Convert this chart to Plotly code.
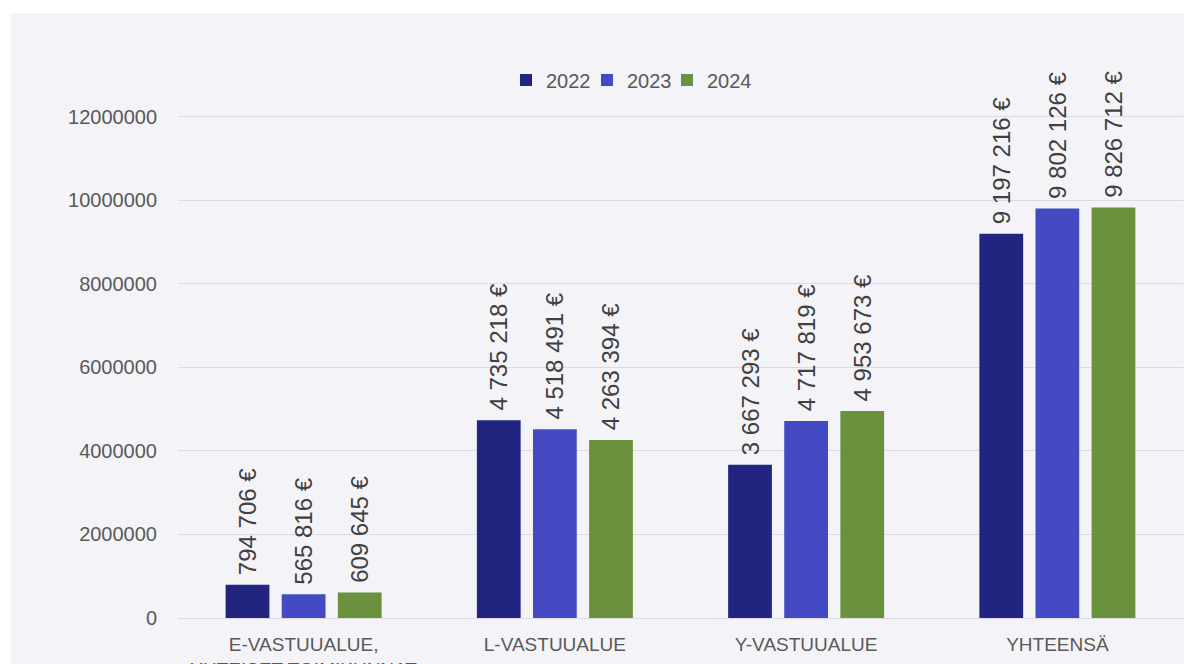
import plotly.graph_objects as go

categories = ["E-VASTUUALUE,<br>YHTEISET TOIMIKUNNAT", "L-VASTUUALUE", "Y-VASTUUALUE", "YHTEENSÄ"]
years = ["2022", "2023", "2024"]
values_2022 = [794706, 4735218, 3667293, 9197216]
values_2023 = [565816, 4518491, 4717819, 9802126]
values_2024 = [609645, 4263394, 4953673, 9826712]
colors = ["#212580", "#444BC2", "#6A923C"]

W, H = 1184, 664
ML, MR = 178, 1
MT = 75
MB = H - 618
BG = "#F4F3F8"
FONT = "Liberation Sans, Arial, sans-serif"


def fmt(v):
    # leading no-break space keeps a small gap between bar top and label
    return "\u00a0" + f"{v:,}".replace(",", " ") + " €"


pw = W - ML - MR
ph = H - MT - MB
plot_bottom = H - MB


def px_x(X):
    return (X - ML) / pw


def px_y(Y):
    return (plot_bottom - Y) / ph


legend_ids = ["legend", "legend2", "legend3"]
legend_left_px = [506, 587, 667]

fig = go.Figure()
for name, vals, col, lid in zip(years, [values_2022, values_2023, values_2024], colors, legend_ids):
    fig.add_trace(go.Bar(
        name=name, x=categories, y=vals,
        marker=dict(color=col, line=dict(width=0)),
        text=[fmt(v) for v in vals],
        textposition="outside", textangle=-90, constraintext="none",
        textfont=dict(size=24, color="#404040", family=FONT),
        cliponaxis=False, hoverinfo="skip", legend=lid, showlegend=True,
    ))

legend_common = dict(orientation="h", xanchor="left", y=px_y(80), yanchor="middle",
                     font=dict(size=20, color="#595959"), bgcolor="rgba(0,0,0,0)",
                     itemwidth=30, visible=True)

fig.update_layout(
    width=W, height=H, autosize=False, showlegend=True,
    margin=dict(l=ML, r=MR, t=MT, b=MB, pad=0, autoexpand=False),
    paper_bgcolor=BG, plot_bgcolor=BG,
    barmode="group", bargap=0.33, bargroupgap=0.22,
    font=dict(family=FONT, color="#595959", size=19),
    legend=dict(x=px_x(legend_left_px[0]), **legend_common),
    legend2=dict(x=px_x(legend_left_px[1]), **legend_common),
    legend3=dict(x=px_x(legend_left_px[2]), **legend_common),
    xaxis=dict(showgrid=False, showline=False, ticks="", ticklabelstandoff=13,
               automargin=False, tickfont=dict(size=19, color="#595959")),
    yaxis=dict(range=[0, 13000000], dtick=2000000, tickformat="d", automargin=False,
               gridcolor="#DCDBE3", gridwidth=1, zeroline=True, zerolinecolor="#DCDBE3",
               zerolinewidth=1, showline=False, ticks="", ticklabelstandoff=20,
               tickfont=dict(size=20, color="#595959")),
    shapes=[
        dict(type="rect", xref="paper", yref="paper", layer="above",
             x0=px_x(-20), x1=px_x(11), y0=px_y(700), y1=px_y(-20),
             fillcolor="white", line=dict(width=0)),
        dict(type="rect", xref="paper", yref="paper", layer="above",
             x0=px_x(-20), x1=px_x(1220), y0=px_y(13), y1=px_y(-20),
             fillcolor="white", line=dict(width=0)),
    ],
)

fig.write_html(
    "out.html",
    config={"displayModeBar": False},
    post_script=(
        "document.body.style.margin='0';"
        "document.body.style.overflow='hidden';"
    ),
)
